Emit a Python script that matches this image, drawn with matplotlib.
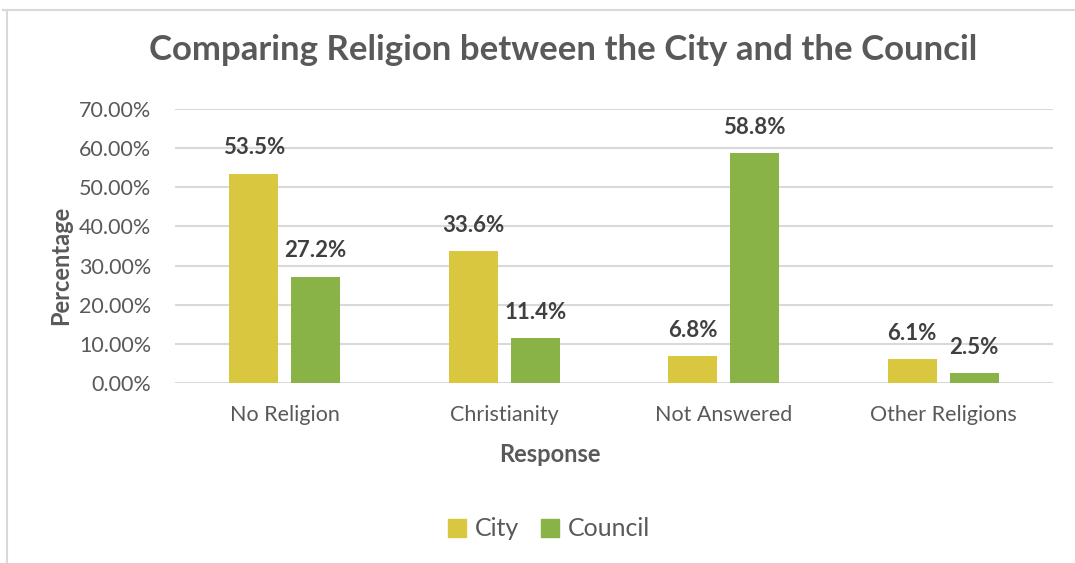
import matplotlib
matplotlib.use("Agg")
import matplotlib.pyplot as plt
import numpy as np
from matplotlib.patches import Patch
from matplotlib.lines import Line2D

categories = ["No Religion", "Christianity", "Not Answered", "Other Religions"]
city = [53.5, 33.6, 6.8, 6.1]
council = [27.2, 11.4, 58.8, 2.5]
yticks = [0, 10, 20, 30, 40, 50, 60, 70]

CITY_COLOR = "#D9C73F"
COUNCIL_COLOR = "#8AB347"
TEXT = "#595959"
LABEL = "#404040"
GRID = "#D9D9D9"

plt.rcParams["font.family"] = ["Lato", "DejaVu Sans"]

W, H = 1075, 563
fig = plt.figure(figsize=(W / 100, H / 100), dpi=100)

# outer chart frame (top and left edges)
fig.add_artist(Line2D([3 / W, 1], [1 - 10 / H, 1 - 10 / H], color="#D9D9D9", lw=1.5))
fig.add_artist(Line2D([7 / W, 7 / W], [0, 1 - 10 / H], color="#D9D9D9", lw=1.5))

ax = fig.add_axes([175 / W, 1 - 383 / H, (1053 - 175) / W, (383 - 109) / H])

x = np.arange(len(categories))
bw = 0.223
gap = 0.059
off = (bw + gap) / 2
b1 = ax.bar(x - off, city, bw, color=CITY_COLOR, zorder=3)
b2 = ax.bar(x + off, council, bw, color=COUNCIL_COLOR, zorder=3)

for bars, vals in ((b1, city), (b2, council)):
    for b, v in zip(bars, vals):
        ax.annotate(f"{v:.1f}%", (b.get_x() + b.get_width() / 2, v),
                    xytext=(0, 11), textcoords="offset points",
                    ha="center", va="bottom", fontsize=16, fontweight="bold",
                    color=LABEL)

ax.set_xlim(-0.5, len(categories) - 0.5)
ax.set_ylim(0, 70)
ax.set_yticks(yticks)
ax.set_yticklabels([f"{t:.2f}%" for t in yticks])
ax.set_xticks(x)
ax.set_xticklabels(categories)
ax.tick_params(axis="both", length=0, labelsize=15.5, colors=TEXT)
ax.tick_params(axis="y", pad=17)
ax.tick_params(axis="x", pad=16)
ax.grid(axis="y", color=GRID, lw=1.5, zorder=0)
for s in ax.spines.values():
    s.set_visible(False)

ax.set_xlabel("Response", fontsize=17, fontweight="bold", color=TEXT)
ax.set_ylabel("Percentage", fontsize=17, fontweight="bold", color=TEXT)
ax.xaxis.set_label_coords((550 - 175) / 878, (383 - 443) / 274)
ax.yaxis.set_label_coords((72 - 175) / 878, (383 - 265) / 274)

fig.text(563 / W, 1 - 50 / H, "Comparing Religion between the City and the Council",
         ha="center", va="center", fontsize=25, fontweight="bold", color=TEXT)

handles = [Patch(color=CITY_COLOR, label="City"), Patch(color=COUNCIL_COLOR, label="Council")]
fig.legend(handles=handles, loc="center", bbox_to_anchor=(549 / W, 1 - 529 / H),
           ncol=2, frameon=False, fontsize=18, labelcolor=TEXT,
           handlelength=0.75, handleheight=0.75, handletextpad=0.35, columnspacing=0.85)

fig.savefig("out.png", dpi=100)
